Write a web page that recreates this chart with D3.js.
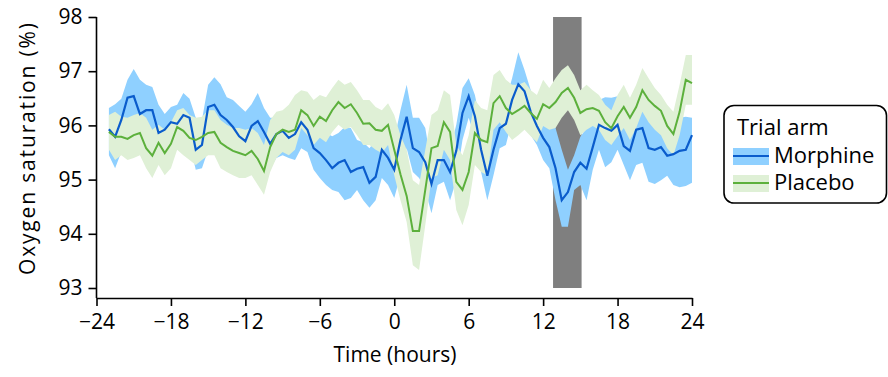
<!DOCTYPE html>
<html><head><meta charset="utf-8">
<script src="https://cdn.jsdelivr.net/npm/d3@7"></script>
<style>body{margin:0;background:#fff}svg{display:block}text{font-family:"Open Sans","Noto Sans",sans-serif;fill:#000}</style>
</head><body><svg id="c" width="888" height="377"></svg>
<script>
// time points (hours), every 30 min
const times = d3.range(95).map(i => -23 + i * 0.5);
const morphineMean = [95.93,95.79,96.10,96.51,96.54,96.21,96.28,96.28,95.86,95.92,96.06,96.03,96.19,96.14,95.55,95.64,96.34,96.38,96.19,96.10,95.97,95.80,95.71,95.99,96.08,95.88,95.66,95.84,95.90,95.77,95.84,96.06,95.92,95.58,95.49,95.36,95.21,95.31,95.36,95.14,95.20,95.23,94.94,95.05,95.55,95.40,95.18,95.73,96.16,95.58,95.51,95.32,94.92,95.36,95.36,95.14,95.53,96.23,96.54,96.17,95.55,95.07,95.55,95.95,96.03,96.47,96.76,96.63,96.25,95.99,95.77,95.60,95.21,94.62,94.77,95.14,95.31,95.20,95.60,96.01,95.95,95.90,96.01,95.62,95.53,95.92,95.95,95.58,95.55,95.60,95.44,95.47,95.53,95.55,95.82];
const morphineUpper = [96.32,96.39,96.49,96.84,97.04,96.84,96.75,96.71,96.38,96.21,96.34,96.38,96.60,96.49,96.14,96.10,96.75,96.89,96.76,96.52,96.47,96.36,96.25,96.39,96.60,96.32,96.14,96.14,96.16,96.19,96.19,96.32,96.14,95.95,95.88,95.86,95.80,95.86,95.97,95.95,95.73,95.69,95.58,95.73,96.10,95.99,95.73,96.28,96.75,96.14,96.14,95.95,95.27,95.73,95.73,95.55,96.01,96.69,96.87,96.56,96.01,95.55,96.01,96.28,96.47,96.87,97.35,97.02,96.65,96.47,96.32,96.14,95.95,95.55,95.18,95.45,95.79,95.95,96.01,96.47,96.52,96.51,96.54,96.28,96.25,96.47,96.47,96.17,96.10,96.14,96.06,96.06,96.14,96.16,96.14];
const morphineLower = [95.45,95.21,95.51,95.55,95.64,95.73,95.77,95.73,95.55,95.51,95.58,95.55,95.73,95.68,95.18,95.21,95.55,95.64,95.58,95.55,95.45,95.36,95.27,95.45,95.55,95.40,95.21,95.40,95.45,95.40,95.36,95.58,95.51,95.18,95.03,94.90,94.81,94.77,94.62,94.66,94.81,94.62,94.48,94.62,95.03,94.90,94.66,95.08,95.58,95.14,95.03,94.81,94.38,94.90,94.96,94.62,94.99,95.73,96.14,95.77,95.14,94.62,95.08,95.58,95.64,96.10,96.28,96.19,95.82,95.64,95.36,95.21,94.62,94.13,94.13,94.81,94.90,94.62,95.18,95.55,95.23,95.32,95.55,95.27,94.99,95.27,95.31,94.96,94.92,94.99,95.07,94.90,94.86,94.88,94.94];
const placeboMean = [95.88,95.79,95.79,95.75,95.82,95.86,95.58,95.44,95.68,95.49,95.66,95.97,95.90,95.77,95.73,95.79,95.86,95.88,95.68,95.60,95.53,95.49,95.45,95.53,95.38,95.16,95.60,95.84,95.92,95.88,95.92,96.28,96.19,95.99,96.16,96.08,96.28,96.43,96.32,96.39,96.23,96.03,96.04,95.92,95.90,96.01,95.55,95.10,94.70,94.05,94.05,94.81,95.58,95.62,96.06,95.88,94.96,94.81,95.14,95.86,95.73,95.69,96.41,96.54,96.32,96.21,96.28,96.36,96.23,96.12,96.39,96.32,96.43,96.60,96.69,96.51,96.23,96.30,96.32,96.27,96.06,95.95,96.17,96.34,96.14,96.34,96.65,96.47,96.36,96.27,95.99,95.84,96.25,96.84,96.78];
const placeboUpper = [96.19,96.25,96.16,96.14,96.19,96.23,96.14,95.92,96.01,95.92,96.06,96.28,96.32,96.19,96.14,96.16,96.28,96.28,96.10,96.01,95.95,95.95,95.92,95.95,95.86,95.64,96.10,96.25,96.28,96.38,96.56,96.65,96.62,96.47,96.56,96.52,96.69,96.84,96.75,96.80,96.65,96.47,96.47,96.34,96.28,96.41,96.19,95.82,95.55,94.99,94.90,95.55,96.19,96.28,96.65,96.56,95.64,95.45,95.82,96.47,96.32,96.28,96.93,97.02,96.84,96.75,96.75,96.80,96.65,96.56,96.84,96.69,96.87,97.02,97.11,96.93,96.65,96.75,96.65,96.56,96.38,96.28,96.56,96.75,96.51,96.75,97.06,96.87,96.69,96.56,96.38,96.25,96.75,97.30,97.30];
const placeboLower = [95.55,95.36,95.45,95.36,95.40,95.45,95.21,95.03,95.27,95.08,95.21,95.55,95.45,95.36,95.27,95.36,95.45,95.45,95.21,95.14,95.08,95.03,95.03,95.08,94.90,94.72,95.14,95.40,95.51,95.45,95.55,95.95,95.82,95.64,95.77,95.69,95.88,96.01,95.92,95.97,95.82,95.64,95.64,95.55,95.49,95.64,95.08,94.62,94.22,93.42,93.33,94.16,95.03,95.08,95.55,95.36,94.44,94.16,94.53,95.27,95.14,95.08,95.92,96.06,95.88,95.73,95.82,95.92,95.80,95.69,95.99,95.92,95.95,96.14,96.28,96.10,95.82,95.92,95.99,95.92,95.73,95.64,95.80,95.95,95.73,95.95,96.25,96.06,95.92,95.82,95.58,95.45,95.82,96.38,96.38];
const shadedPeriod = [12.8, 15.1];
const xTicks = [-24,-18,-12,-6,0,6,12,18,24];
const yTicks = [93,94,95,96,97,98];
const seriesNames = ["Morphine","Placebo"];
const colors = {Morphine:{band:"#8fd0ff", line:"#0a5ccc"}, Placebo:{band:"#dff0d6", line:"#5cb03c"}};

const svg = d3.select("#c");
const x = d3.scaleLinear().domain([-24,24]).range([96.5,692]);
const y = d3.scaleLinear().domain([93,98]).range([288,17]);
const axisY = 298;
const FS = 21;

function rows(mean, lo, hi){ return times.map((t,i)=>({t, m:mean[i], lo:lo[i], hi:hi[i]})); }
const morph = rows(morphineMean, morphineLower, morphineUpper);
const plac = rows(placeboMean, placeboLower, placeboUpper);
const area = d3.area().x(d=>x(d.t)).y0(d=>y(d.lo)).y1(d=>y(d.hi));
const line = d3.line().x(d=>x(d.t)).y(d=>y(d.m));

svg.append("rect").attr("x", x(shadedPeriod[0])).attr("y", y(98))
  .attr("width", x(shadedPeriod[1]) - x(shadedPeriod[0])).attr("height", y(93) - y(98))
  .attr("fill", "#7f7f7f");
svg.append("path").datum(morph).attr("d", area).attr("fill", colors.Morphine.band);
svg.append("path").datum(plac).attr("d", area).attr("fill", colors.Placebo.band);
svg.append("path").datum(morph).attr("d", line).attr("fill","none").attr("stroke", colors.Morphine.line).attr("stroke-width",2.2);
svg.append("path").datum(plac).attr("d", line).attr("fill","none").attr("stroke", colors.Placebo.line).attr("stroke-width",2);

// axes
const gy = svg.append("g").attr("transform","translate(96.5,0)")
  .call(d3.axisLeft(y).tickValues(yTicks).tickFormat(d3.format("d")).tickSize(8).tickSizeOuter(0).tickPadding(6));
gy.select(".domain").remove();
gy.append("line").attr("x1",0).attr("x2",0).attr("y1",y(98)).attr("y2",axisY).attr("stroke","#000").attr("stroke-width",1.6);
gy.selectAll(".tick line").attr("stroke-width",1.6);
gy.selectAll("text").attr("font-size",FS).style("font-family",'"Open Sans",sans-serif');

const gx = svg.append("g").attr("transform",`translate(0,${axisY})`)
  .call(d3.axisBottom(x).tickValues(xTicks).tickSize(8).tickSizeOuter(0).tickPadding(8)
    .tickFormat(d => d < 0 ? "\u2212" + Math.abs(d) : String(d)));
gx.select(".domain").attr("stroke-width",1.6);
gx.selectAll(".tick line").attr("stroke-width",1.6);
gx.selectAll("text").attr("font-size",FS).style("font-family",'"Open Sans",sans-serif');

svg.append("text").attr("x", 395).attr("y", 362).attr("text-anchor","middle").attr("font-size",FS).text("Time (hours)");
svg.append("text").attr("transform","translate(35,149) rotate(-90)").attr("text-anchor","middle").attr("font-size",FS)
  .attr("textLength",252).attr("lengthAdjust","spacing").text("Oxygen saturation (%)");

// legend
const lg = svg.append("g");
lg.append("rect").attr("x",724).attr("y",105.5).attr("width",162.5).attr("height",97.5).attr("rx",10)
  .attr("fill","#fff").attr("stroke","#000").attr("stroke-width",1.6);
lg.append("text").attr("x",737).attr("y",135).attr("font-size",22).text("Trial arm");
seriesNames.forEach((s,i)=>{
  const yy = 156 + i*27;
  lg.append("rect").attr("x",733).attr("y",yy-8).attr("width",36).attr("height",17).attr("fill",colors[s].band);
  lg.append("line").attr("x1",733).attr("x2",769).attr("y1",yy).attr("y2",yy).attr("stroke",colors[s].line).attr("stroke-width",2);
  lg.append("text").attr("x",774).attr("y",yy+7).attr("font-size",22).text(s);
});
</script></body></html>
